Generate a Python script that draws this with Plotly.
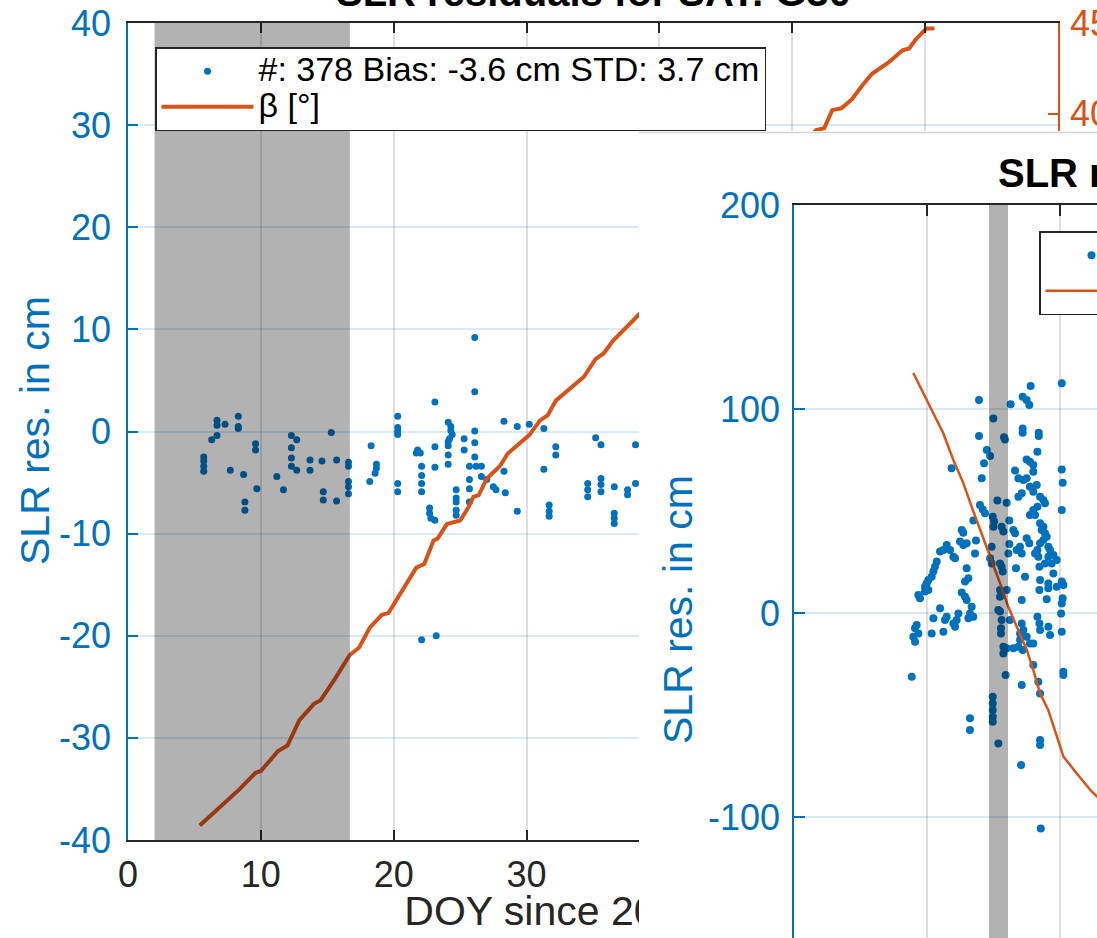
import plotly.graph_objects as go

W, H = 1097, 938
BLUE = "#0072BD"
ORANGE = "#D95319"
DARK = "#262626"
FONT = "Liberation Sans, Arial, Helvetica, sans-serif"

# ---------------- chart 1 (back window): SLR residuals, G30 ----------------
doy1 = [5.7, 5.7, 5.7, 5.7, 6.3, 6.7, 6.7, 6.7, 7.3, 7.7, 8.3, 8.3, 8.3, 8.7, 8.8, 8.8,
        9.6, 9.6, 9.7, 11.2, 11.7, 12.3, 12.7, 12.3, 12.3, 12.3, 12.7, 13.7, 13.7, 14.6,
        14.7, 14.7, 15.3, 15.7, 15.7, 16.6, 16.6, 16.6, 16.6, 16.6,
        18.2, 18.3, 18.7, 18.7, 18.6, 20.3, 20.3, 20.3, 20.3, 20.3, 20.3,
        21.8, 22.0, 21.7, 22.1, 22.1, 22.1, 22.1, 22.7, 22.7, 22.8, 23.1, 22.1, 23.2,
        23.1, 23.1, 23.1, 24.1, 24.3, 24.3, 24.4, 24.2, 24.1, 24.1, 24.1, 24.1,
        24.7, 24.7, 24.7, 24.7, 24.7, 25.3, 25.3, 25.7, 26.2, 26.6, 25.7, 25.7, 25.7,
        26.1, 26.1, 26.1, 26.1, 26.1, 26.6, 27.0, 27.5, 27.7, 28.3, 28.3, 28.4,
        29.3, 29.3, 30.2, 31.3, 31.3, 31.7, 31.7, 31.7, 32.2, 32.2,
        34.6, 34.6, 34.6, 35.2, 35.6, 35.6, 35.6, 35.6, 36.6, 36.6, 36.6, 36.6,
        37.6, 37.6, 38.2, 38.2]
res1 = [-2.5, -2.9, -3.4, -3.9, -0.8, -0.4, 1.1, 0.6, 0.7, -3.8, 1.5, 0.5, 0.3, -4.2, -6.9, -7.7,
        -1.2, -1.8, -5.6, -4.4, -5.7, -0.4, -0.8, -1.6, -2.6, -3.4, -3.8, -2.8, -3.8, -2.9,
        -5.9, -6.7, -0.1, -2.8, -6.8, -3.0, -3.4, -4.9, -5.4, -6.1,
        -4.9, -1.4, -3.2, -3.6, -4.1, 1.5, 0.4, 0.0, -0.3, -5.1, -5.9,
        -1.8, -2.1, -2.1, -3.4, -4.3, -5.1, -5.9, -7.5, -8.0, -8.5, -8.7, -20.4, -20.0,
        2.9, -1.5, -3.5, 0.9, 0.5, 0.1, -0.3, -0.7, -1.0, -1.4, -2.3, -3.2,
        -5.7, -6.5, -6.9, -7.7, -8.2, -0.7, -1.8, -3.4, -3.4, -3.4, -4.7, -5.6, -6.9,
        9.2, 3.9, 0.05, -1.1, -2.5, -4.4, -4.7, -5.4, -5.7, 1.0, -3.9, -6.0,
        0.5, -7.8, 0.7, 0.3, -3.7, -7.2, -7.8, -8.3, -1.5, -2.3,
        -5.1, -5.7, -6.4, -0.6, -1.3, -4.6, -5.2, -5.9, -5.4, -8.0, -8.5, -9.0,
        -5.7, -6.2, -1.3, -5.1]
beta_doy1 = [5.4, 6.6, 7.0, 8.4, 9.6, 10.0, 11.3, 12.0, 12.9, 14.0, 14.5, 15.6, 16.7,
             17.4, 18.2, 19.1, 19.6, 21.0, 21.7, 22.3, 23.0, 23.3, 24.0, 25.0, 25.6,
             26.0, 26.4, 27.0, 28.0, 28.6, 29.5, 30.2, 31.0, 31.6, 32.2, 33.5, 34.3,
             35.2, 35.8, 36.5, 38.0, 51.8, 52.4, 53.0, 53.7, 54.5, 55.2, 56.0, 57.2,
             58.3, 58.8, 59.3, 60.1, 60.7]
beta1 = [0.8, 1.6, 1.8, 2.8, 3.7, 3.8, 4.9, 5.2, 6.6, 7.5, 7.7, 8.9, 10.2,
         10.6, 11.7, 12.4, 12.5, 14.2, 15.0, 15.2, 16.5, 16.6, 17.4, 17.6, 18.3,
         18.9, 19.0, 19.9, 20.6, 21.3, 21.9, 22.3, 23.1, 23.4, 24.2, 25.0, 25.5,
         26.5, 26.8, 27.5, 28.6, 39.1, 39.2, 40.2, 40.3, 40.8, 41.5, 42.2, 42.8,
         43.5, 43.6, 44.1, 44.7, 44.7]
eclipse1 = [2.0, 16.7]
x1_range = [0, 70]
y1_range = [-40, 40]
b1_range = [0, 45]
x1_ticks = [0, 10, 20, 30, 40, 50, 60, 70]
y1_ticks = [-40, -30, -20, -10, 0, 10, 20, 30, 40]
y1_labels = ["-40", "-30", "-20", "-10", "0", "10", "20", "30", "40"]
b1_ticks = [0, 5, 10, 15, 20, 25, 30, 35, 40, 45]
legend1_res = "#: 378 Bias: -3.6 cm STD: 3.7 cm"
xlabel1 = "DOY since 2020"
xlabel1_start = 20.8

# ---------------- chart 2 (front window) ----------------
doy2 = [17.79, 20.13, 13.91, 16.29, 17.19, 17.49, 17.69, 14.99, 13.91, 15.79, 15.86, 17.19,
        17.19, 18.40, 18.40, 14.49, 14.74, 14.29, 18.30, 17.49, 17.74, 17.99, 17.99, 20.13,
        20.20, 11.85, 14.11, 16.62, 16.87, 17.24, 17.49, 17.74, 18.25, 17.99, 18.50, 18.75,
        18.87, 18.30, 17.99, 17.74, 18.12, 16.87, 17.12, 15.29, 15.99, 20.13, 13.98, 14.19,
        14.36, 14.94, 15.04, 14.99, 15.61, 15.74, 16.19, 16.49, 16.62, 13.48, 12.61, 12.73,
        12.48, 12.73, 12.98, 13.68, 11.48, 10.98, 11.23, 11.73, 11.98, 12.11, 14.86, 14.74,
        14.86, 15.49, 15.61, 15.69, 16.19, 16.12, 16.74, 16.99, 17.49, 17.69, 17.12, 18.50,
        18.62, 18.75, 18.87, 19.00, 18.75, 18.50, 19.12, 19.25, 19.50, 19.75, 19.12, 19.37,
        18.87, 18.37, 18.30, 18.12, 18.45, 19.50, 18.50, 19.12, 18.45, 19.12, 19.75, 20.13,
        20.25, 20.20, 20.13, 19.00, 16.69, 17.37, 17.12, 10.73, 10.60, 10.48, 10.35, 10.10,
        9.97, 9.85, 10.10, 9.85, 9.35, 9.47, 13.61, 12.98, 13.11, 12.86, 12.61, 12.86,
        12.98, 13.36, 13.23, 13.48, 13.11, 12.36, 12.23, 11.98, 12.11, 11.48, 11.35, 10.98,
        10.48, 10.35, 11.23, 9.22, 9.10, 8.97, 9.10, 9.35, 8.85, 15.49, 15.49, 15.49,
        15.61, 15.56, 15.56, 15.36, 16.24, 15.99, 15.74, 15.74, 15.99, 16.49, 16.87, 17.19,
        17.74, 17.99, 16.99, 16.99, 17.24, 17.49, 17.12, 18.30, 18.45, 18.50, 19.12, 19.25,
        20.08, 20.13, 17.99, 18.37, 18.50, 17.12, 15.91, 20.25, 20.25, 14.94, 14.94, 14.94,
        14.94, 14.94, 15.36, 13.23, 13.23, 18.50, 18.50, 17.07, 18.55]
res2 = [111.3, 112.6, 104.4, 102.3, 106.0, 104.4, 102.0, 95.4, 86.8, 86.1, 85.1, 90.5,
        88.4, 88.4, 86.8, 79.9, 77.0, 73.4, 79.1, 75.3, 74.2, 72.5, 69.3, 70.4,
        63.9, 70.9, 66.0, 69.8, 66.0, 65.2, 66.0, 61.9, 62.7, 59.5, 57.0, 55.4,
        53.8, 52.1, 50.5, 48.0, 48.0, 57.0, 58.7, 55.1, 54.1, 50.5, 52.9, 50.8,
        48.9, 47.2, 44.8, 42.3, 42.3, 39.9, 45.3, 40.7, 39.1, 45.3, 40.7, 39.4,
        35.0, 33.3, 34.2, 35.5, 33.3, 30.1, 30.9, 30.9, 27.6, 26.8, 32.5, 26.8,
        24.3, 24.3, 22.7, 20.3, 33.8, 29.2, 30.9, 32.5, 36.6, 34.2, 29.2, 44.0,
        40.7, 42.3, 39.1, 37.4, 35.8, 34.2, 32.5, 30.9, 28.4, 26.0, 27.6, 24.3,
        24.3, 27.6, 30.9, 29.2, 22.7, 19.4, 16.2, 14.5, 11.3, 12.1, 12.9, 15.4,
        13.7, 7.2, 4.7, 6.7, 21.9, 17.8, 6.4, 25.2, 22.7, 20.3, 17.8, 16.2,
        14.5, 12.9, 11.3, 10.5, 8.8, 7.2, 29.2, 21.9, 17.0, 15.4, 10.0, 8.0,
        6.4, 3.1, -0.2, -1.8, -2.6, -0.2, -3.4, -5.1, -6.7, -1.8, -3.4, 2.3,
        -2.6, -10.0, -9.2, -5.9, -7.5, -11.6, -14.1, -10.0, -31.2, 11.3, 8.0, 0.7,
        -3.4, -7.5, -10.0, 1.5, -3.4, 11.3, -16.5, -19.8, -17.3, -17.3, -16.5, -18.1,
        -14.9, -14.9, -13.2, -10.0, -8.3, -11.6, -5.1, -1.8, -5.1, -8.3, -6.7, -10.8,
        -0.2, -9.2, -25.5, -33.7, -39.4, -35.3, -30.4, -28.8, -30.4, -41.0, -44.3, -47.5,
        -50.8, -53.3, -63.9, -51.6, -57.4, -62.3, -64.7, -74.5, -105.6]
beta_doy2 = [8.97, 10.23, 10.73, 11.23, 11.98, 12.73, 13.36, 13.98, 14.74, 15.49, 16.11,
             16.74, 17.5, 17.99, 18.5, 19.12, 19.75, 20.25, 21.26, 22.26, 22.78, 23.8]
beta2 = [35.3, 30.3, 28.4, 26.4, 22.5, 19.1, 15.6, 12.2, 8.3, 4.4, 0.9,
         -2.0, -5.4, -8.4, -11.8, -14.3, -18.2, -21.1, -23.6, -26.0, -27.0, -28.5]
eclipse2 = [14.66, 16.09]
x2_range = [0, 22.78]
y2_range = [-159.3, 200]
b2_range = [-47.8, 60]
x2_ticks = [0, 10, 20]
y2_ticks = [-100, 0, 100, 200]
y2_labels = ["-100", "0", "100", "200"]


def px_x(p):
    return p / W


def px_y(p):
    return 1 - p / H


def big(txt):
    return '<span style="font-size:34px">' + txt + '</span>'


fig = go.Figure()

# chart 1 traces (subplot xy + overlay y5)
fig.add_trace(go.Scatter(x=doy1, y=res1, mode="markers", name=big(legend1_res),
                         marker=dict(color=BLUE, size=7), xaxis="x", yaxis="y",
                         legend="legend", hoverinfo="skip"))
fig.add_trace(go.Scatter(x=beta_doy1, y=beta1, mode="lines", name=big("β [°]"),
                         line=dict(color=ORANGE, width=4), xaxis="x", yaxis="y5",
                         legend="legend", hoverinfo="skip"))
# x-axis title of chart 1, in a strip subplot below it so the front window hides its tail
fig.add_trace(go.Scatter(x=[xlabel1_start], y=[0.5], mode="text", text=[xlabel1],
                         textposition="middle right", cliponaxis=False,
                         textfont=dict(family=FONT, size=41, color=DARK),
                         xaxis="x2", yaxis="y2", showlegend=False, hoverinfo="skip"))

# front window background subplot
fig.add_trace(go.Scatter(x=[0.5], y=[0.5], mode="none", xaxis="x3", yaxis="y3",
                         showlegend=False, hoverinfo="skip"))

# chart 2 traces (subplot x4y4 + overlay y6)
fig.add_trace(go.Scatter(x=doy2, y=res2, mode="markers", name=big("SLR residuals"),
                         marker=dict(color=BLUE, size=8), xaxis="x4", yaxis="y4",
                         legend="legend2", hoverinfo="skip"))
fig.add_trace(go.Scatter(x=beta_doy2, y=beta2, mode="lines", name=big("β [°]"),
                         line=dict(color=ORANGE, width=2.5), xaxis="x4", yaxis="y6",
                         legend="legend2", hoverinfo="skip"))

tickfont_blue = dict(family=FONT, size=36, color=BLUE)
tickfont_dark = dict(family=FONT, size=36, color=DARK)
tickfont_orange = dict(family=FONT, size=36, color=ORANGE)
grid_dark = "rgba(38,38,38,0.15)"
grid_blue = "rgba(0,114,189,0.15)"
legend_common = dict(xanchor="left", yanchor="top", bgcolor="white", bordercolor=DARK,
                     borderwidth=1.5, font=dict(family=FONT, size=25, color="black"),
                     itemwidth=92, tracegroupgap=0)

fig.update_layout(
    width=W, height=H,
    margin=dict(l=0, r=0, t=0, b=0, autoexpand=False),
    paper_bgcolor="white", plot_bgcolor="white",
    font=dict(family=FONT, color=DARK),
    showlegend=True,
    xaxis=dict(domain=[px_x(128), px_x(1058)], range=x1_range, anchor="y",
               tickvals=x1_ticks, ticktext=[str(v) for v in x1_ticks],
               ticks="inside", ticklen=10, tickwidth=1.5, tickcolor=DARK,
               showline=True, linecolor=DARK, linewidth=1.5, mirror="ticks",
               showgrid=True, gridcolor=grid_dark, gridwidth=1.5, zeroline=False,
               tickfont=tickfont_dark, ticklabelstandoff=2),
    yaxis=dict(domain=[px_y(840), px_y(23)], range=y1_range, anchor="x",
               tickvals=y1_ticks, ticktext=y1_labels,
               ticks="inside", ticklen=10, tickwidth=1.5, tickcolor=BLUE,
               showline=True, linecolor=BLUE, linewidth=1.5,
               showgrid=True, gridcolor=grid_blue, gridwidth=1.5, zeroline=False,
               tickfont=tickfont_blue, ticklabelstandoff=8),
    yaxis5=dict(overlaying="y", side="right", anchor="x", range=b1_range,
                tickvals=b1_ticks, ticks="inside", ticklen=10, tickwidth=1.5,
                tickcolor=ORANGE, showline=True, linecolor=ORANGE, linewidth=1.5,
                showgrid=False, zeroline=False, tickfont=tickfont_orange,
                ticklabelstandoff=3),
    xaxis2=dict(domain=[px_x(128), px_x(1058)], range=x1_range, anchor="y2", visible=False),
    yaxis2=dict(domain=[0, px_y(892)], range=[0, 1], anchor="x2", visible=False),
    xaxis3=dict(domain=[px_x(639), 1], range=[0, 1], anchor="y3", visible=False),
    yaxis3=dict(domain=[0, px_y(131)], range=[0, 1], anchor="x3", visible=False),
    xaxis4=dict(domain=[px_x(794), 1], range=x2_range, anchor="y4", side="top",
                tickvals=x2_ticks, showticklabels=False,
                ticks="inside", ticklen=11, tickwidth=1.5, tickcolor=DARK,
                showline=True, linecolor=DARK, linewidth=1.5,
                showgrid=True, gridcolor=grid_dark, gridwidth=1.5, zeroline=False),
    yaxis4=dict(domain=[0, px_y(205)], range=y2_range, anchor="x4",
                tickvals=y2_ticks, ticktext=y2_labels,
                ticks="inside", ticklen=11, tickwidth=1.5, tickcolor=BLUE,
                showline=True, linecolor=BLUE, linewidth=1.5,
                showgrid=True, gridcolor=grid_blue, gridwidth=1.5, zeroline=False,
                tickfont=tickfont_blue, ticklabelstandoff=5),
    yaxis6=dict(overlaying="y4", side="right", anchor="x4", range=b2_range,
                visible=False),
    legend=dict(x=px_x(155), y=px_y(47), **legend_common),
    legend2=dict(x=px_x(1039), y=px_y(231), **legend_common),
    shapes=[
        dict(type="rect", xref="x", yref="y", x0=eclipse1[0], x1=eclipse1[1],
             y0=y1_range[0], y1=y1_range[1], fillcolor="rgba(0,0,0,0.3)",
             line=dict(width=0), layer="above"),
        dict(type="rect", xref="x4", yref="y4", x0=eclipse2[0], x1=eclipse2[1],
             y0=y2_range[0], y1=y2_range[1], fillcolor="rgba(0,0,0,0.3)",
             line=dict(width=0), layer="above"),
        dict(type="line", xref="x3", yref="y3", x0=0, x1=1, y0=0.998, y1=0.998,
             line=dict(color="#d4d4d4", width=1.5), layer="below"),
    ],
    annotations=[
        dict(text="<b>SLR residuals for SAT: G30</b>", xref="paper", yref="paper",
             x=px_x(593), y=px_y(-8), xanchor="center", yanchor="middle",
             showarrow=False, font=dict(family=FONT, size=40, color="black")),
        dict(text="<b>SLR residuals</b>", xref="paper", yref="paper",
             x=px_x(996), y=px_y(173), xanchor="left", yanchor="middle",
             showarrow=False, font=dict(family=FONT, size=40, color="black")),
        dict(text="SLR res. in cm", xref="paper", yref="paper", textangle=-90,
             x=px_x(35), y=px_y(431), xanchor="center", yanchor="middle",
             showarrow=False, font=dict(family=FONT, size=41, color=BLUE)),
        dict(text="SLR res. in cm", xref="paper", yref="paper", textangle=-90,
             x=px_x(678), y=px_y(610), xanchor="center", yanchor="middle",
             showarrow=False, font=dict(family=FONT, size=41, color=BLUE)),
    ],
)

fig.write_html("out.html")
